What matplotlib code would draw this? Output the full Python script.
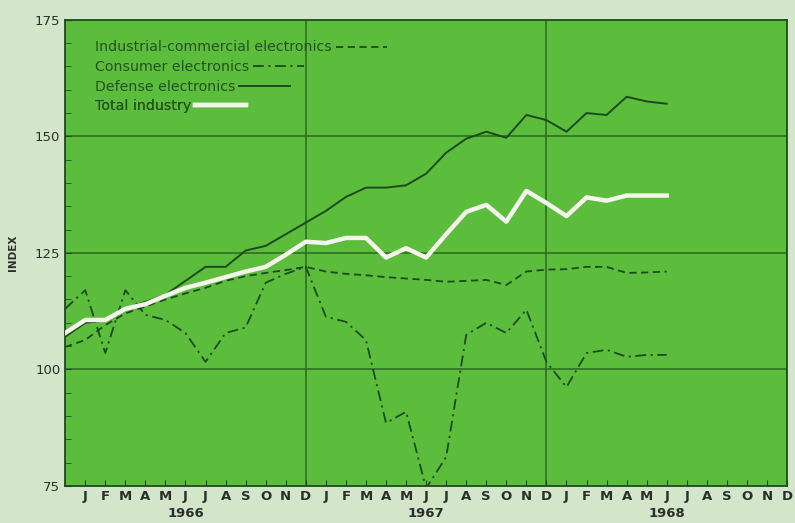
import matplotlib.pyplot as plt
import matplotlib.transforms as mtransforms

# months: index 0 = Dec 1965 ... index 30 = Jun 1968
months = list(range(31))

industrial = [104.8, 106.3, 109.5, 112, 113.5, 115, 116.3, 117.5, 119, 120, 120.7, 121.3, 122,
              121, 120.5, 120.2, 119.8, 119.5, 119.2, 118.8, 119, 119.2, 118.1, 121, 121.4,
              121.5, 122, 122, 120.7, 120.8, 121]
consumer = [113, 117, 103.5, 117, 111.7, 110.6, 107.8, 101.6, 107.8, 109, 118.6, 120.5, 122,
            111.3, 110.2, 106.3, 88.5, 90.9, 74.5, 81.2, 107.4, 110, 107.8, 112.8, 101.6,
            96.2, 103.5, 104.2, 102.7, 103.1, 103.1]
defense = [107, 110, 110.5, 113, 114.5, 116, 119, 122, 122, 125.5, 126.5, 129, 131.5,
           134, 137, 139, 139, 139.5, 142, 146.5, 149.5, 151, 149.7, 154.6, 153.5,
           151, 155, 154.6, 158.5, 157.5, 157]
total = [107.8, 110.6, 110.6, 113, 114, 115.8, 117.5, 118.6, 119.8, 121, 122, 124.6, 127.4,
         127.1, 128.2, 128.2, 124, 126, 124, 129, 133.8, 135.3, 131.7, 138.3, 135.7,
         132.9, 136.9, 136.2, 137.3, 137.3, 137.3]

month_letters = list("JFMAMJJASOND") * 3
year_labels = ["1966", "1967", "1968"]
year_pos = [6, 18, 30]
hgrid = [100, 125, 150]
vgrid = [12, 24]

plot_bg = "#5cbd3d"
fig_bg = "#d3e6ca"
dark = "#1d4a1d"
text_col = "#2b2f2b"

fig = plt.figure(figsize=(7.95, 5.23), dpi=100, facecolor=fig_bg)
ax = fig.add_axes([0.082, 0.071, 0.908, 0.891])
ax.set_facecolor(plot_bg)

for v in hgrid:
    ax.axhline(v, color="#2f6e22", lw=1.2, zorder=1)
for v in vgrid:
    ax.axvline(v, color="#2f6e22", lw=1.2, zorder=1)

l1, = ax.plot(months, industrial, color=dark, lw=1.3, ls=(0, (4, 2.5)), zorder=3)
l2, = ax.plot(months, consumer, color=dark, lw=1.3, ls=(0, (6, 2.5, 1.2, 2.5)), zorder=3)
l3, = ax.plot(months, defense, color=dark, lw=1.4, zorder=3)
l4, = ax.plot(months, total, color="#f4f4ec", lw=3.2, zorder=4)

ax.set_xlim(0, 36)
ax.set_ylim(75, 175)
ax.set_xticks(range(1, 37))
ax.set_xticklabels(month_letters, fontsize=9.5, fontweight="bold", color=text_col)
ax.set_yticks([75, 100, 125, 150, 175])
ax.set_yticks(range(75, 176, 5), minor=True)
ax.tick_params(axis="x", direction="in", length=4, color=dark, pad=3)
ax.tick_params(axis="y", which="both", direction="in", length=4, color=dark, labelsize=9.5,
               labelcolor=text_col)
ax.set_ylabel("INDEX", fontsize=7.5, fontweight="bold", color=text_col, labelpad=12)
for s in ax.spines.values():
    s.set_color(dark)
    s.set_linewidth(1.3)

trans = mtransforms.blended_transform_factory(ax.transData, ax.transAxes)
for lab, pos in zip(year_labels, year_pos):
    ax.text(pos, -0.046, lab, transform=trans, ha="center", va="top",
            fontsize=9.5, fontweight="bold", color=text_col)

# legend: one entry per legend so text stays left-aligned with the key after it
labels = ["Industrial-commercial electronics", "Consumer electronics",
          "Defense electronics", "Total industry"]
handles = [l1, l2, l3, l4]
for i, (h, lab) in enumerate(zip(handles, labels)):
    leg = ax.legend([h], [lab], loc="upper left", bbox_to_anchor=(0.031, 0.971 - i * 0.042),
                    frameon=False, markerfirst=False, handlelength=3.6, handletextpad=0.3,
                    borderpad=0, fontsize=10.2, labelcolor="#24521f")
    ax.add_artist(leg)

fig.savefig("out.png", dpi=100, facecolor=fig_bg)
